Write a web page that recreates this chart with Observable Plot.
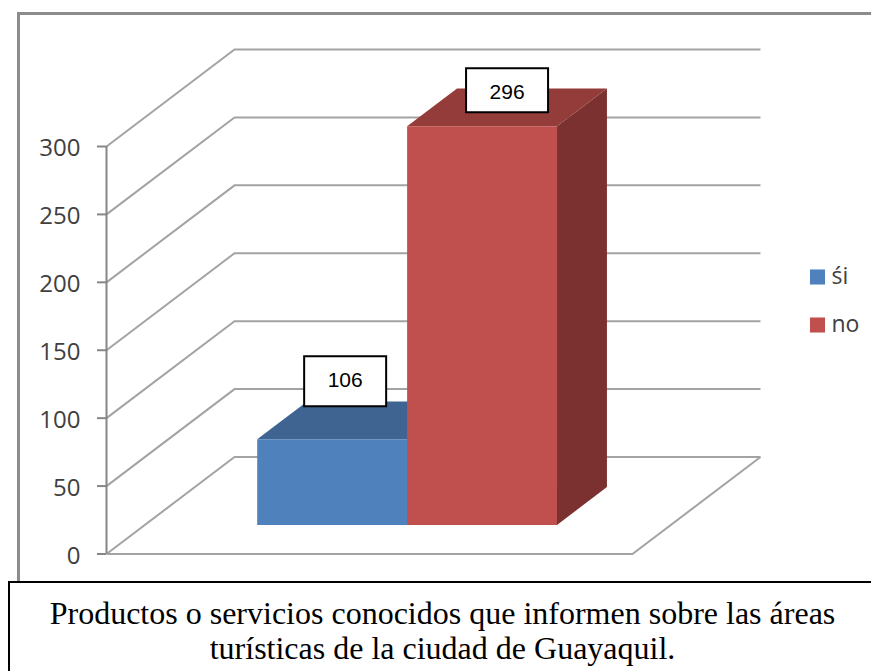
<!DOCTYPE html>
<html lang="es">
<head>
<meta charset="utf-8">
<script src="https://cdn.jsdelivr.net/npm/d3@7"></script>
<script src="https://cdn.jsdelivr.net/npm/@observablehq/plot@0.6"></script>
<style>
  html, body { margin: 0; padding: 0; background: #fff; overflow: hidden; }
  #page { position: relative; width: 871px; height: 671px; overflow: hidden; }
  #frame { position: absolute; left: 17px; top: 12px; width: 900px; height: 600px; border: 3px solid #8c8c8c; box-sizing: border-box; }
  #chart { position: absolute; left: 0; top: 0; }
  #caption { position: absolute; left: 8px; top: 581px; width: 900px; height: 120px; border: 2px solid #000; box-sizing: border-box; background: #fff; }
  #caption div { position: absolute; left: 0; width: 865px; text-align: center; font: 32px/36px "Liberation Serif", serif; color: #000; }
</style>
</head>
<body>
<div id="page">
  <div id="frame"></div>
  <div id="chart"></div>
  <div id="caption">
    <div style="top:12px">Productos o servicios conocidos que informen sobre las áreas</div>
    <div style="top:47px">turísticas de la ciudad de Guayaquil.</div>
  </div>
</div>
<script>
// Data
const categories = ["śi", "no"];
const barHeights = [63, 293.5];      // heights as drawn against the axis
const barLabels = ["106", "296"];    // numbers printed in the label boxes
const yTicks = [0, 50, 100, 150, 200, 250, 300];
const frontColors = ["#4f81bd", "#c0504d"];
const topColors = ["#3f6491", "#943c3a"];
const sideColors = ["#3f6491", "#7a3130"];

// Oblique 3D: a point (slot, value, depth) is sheared into x/y data units
const xPerDepth = 128 / 263;
const yPerDepth = 71.4;
const px = (s, d) => s + d * xPerDepth;
const py = (v, d) => v + d * yPerDepth;

// Walls and floor
const gridPts = yTicks.flatMap(v => [
  {id: v, x: px(0, 0), y: py(v, 0)},
  {id: v, x: px(0, 1), y: py(v, 1)},
  {id: v, x: px(categories.length, 1), y: py(v, 1)}
]);
const floorPts = [[0, 0], [categories.length, 0], [categories.length, 1]]
  .map(([s, d]) => ({x: px(s, d), y: py(0, d)}));

// Bars
const gap = 0.427, barW = 0.57, d0 = 0.3, d1 = 0.69;
const faces = categories.flatMap((c, i) => {
  const a = gap + i * barW, b = a + barW, h = barHeights[i];
  const poly = (face, color, pts) => pts.map(([s, v, d]) => ({id: c + face, color, x: px(s, d), y: py(v, d)}));
  return [
    ...poly("side", sideColors[i], [[b, 0, d0], [b, 0, d1], [b, h, d1], [b, h, d0]]),
    ...poly("top", topColors[i], [[a, h, d0], [b, h, d0], [b, h, d1], [a, h, d1]]),
    ...poly("front", frontColors[i], [[a, 0, d0], [b, 0, d0], [b, h, d0], [a, h, d0]])
  ];
});
const labelRows = categories.map((c, i) => ({
  x: px(gap + (i + 0.5) * barW, d0), y: py(barHeights[i], d0), label: barLabels[i]
}));
// offsets of each label box from its bar's top edge, box half-height, text offset
const labelOffsets = [
  {dx: 13, dy: -58, half: 25, textDy: -59},
  {dx: 25, dy: -36, half: 22, textDy: -34}
];
const legendRows = categories.map((c, i) => ({name: c, color: frontColors[i], row: i}));

const labelMarks = labelRows.flatMap((r, i) => {
  const o = labelOffsets[i];
  const box = {draw(ctx) { ctx.rect(-41, -o.half, 82, o.half * 2); }};
  return [
    Plot.dot([r], {x: "x", y: "y", symbol: box, r: 10, fill: "#fff", stroke: "#000", strokeWidth: 2, dx: o.dx, dy: o.dy}),
    Plot.text([r], {x: "x", y: "y", text: "label", fontSize: 21, fontFamily: "Liberation Sans", fill: "#000", dx: o.dx, dy: o.textDy})
  ];
});
const legendMarks = legendRows.flatMap(r => [
  Plot.dot([r], {frameAnchor: "top-left", dx: 711, dy: 130.5 + r.row * 48, symbol: "square", r: 8.5, fill: r.color, stroke: "none"}),
  Plot.text([r], {frameAnchor: "top-left", dx: 725, dy: 130 + r.row * 48, lineAnchor: "middle", text: "name", textAnchor: "start", fontSize: 23, fill: "#404040"})
]);

const chart = Plot.plot({
  width: 871, height: 581,
  marginLeft: 106, marginRight: 111, marginTop: 146, marginBottom: 27.5,
  style: {background: "transparent", overflow: "visible", fontFamily: "'Open Sans'"},
  x: {domain: [0, categories.length + xPerDepth], range: [106, 760], axis: null},
  y: {domain: [0, 300], range: [553.5, 146], axis: null},
  color: {type: "identity"},
  marks: [
    Plot.line(gridPts, {x: "x", y: "y", z: "id", stroke: "#a3a3a3", strokeWidth: 2, strokeLinecap: "butt"}),
    Plot.line(floorPts, {x: "x", y: "y", stroke: "#a3a3a3", strokeWidth: 2, strokeLinecap: "butt"}),
    Plot.axisY({ticks: yTicks, text: null, label: null, tickSize: 9, stroke: "#868686", strokeOpacity: 1, strokeWidth: 2}),
    Plot.axisY({ticks: yTicks, tickFormat: d => d, label: null, tickSize: 0, tickPadding: 26, dy: 2, fontSize: 24, color: "#404040"}),
    Plot.ruleX([0], {y1: 0, y2: 300, stroke: "#868686", strokeWidth: 2}),
    Plot.line(faces, {x: "x", y: "y", z: "id", fill: "color", stroke: "none"}),
    ...labelMarks,
    ...legendMarks
  ]
});
document.getElementById("chart").append(chart);
</script>
</body>
</html>
